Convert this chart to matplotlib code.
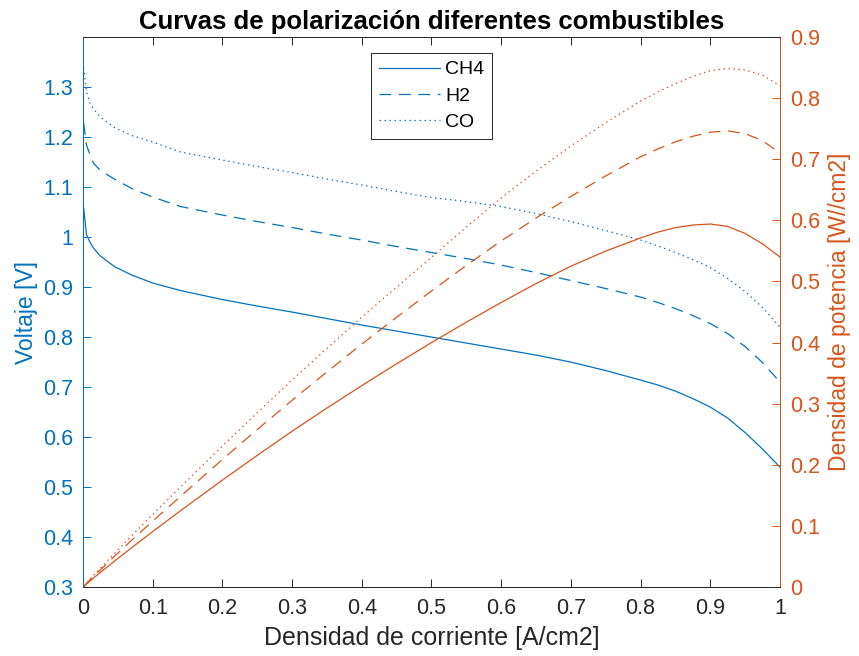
import numpy as np
import matplotlib
matplotlib.use("Agg")
import matplotlib.pyplot as plt

plt.rcParams['font.family'] = ['Liberation Sans', 'DejaVu Sans']
plt.rcParams['lines.scale_dashes'] = False

# densidad de corriente [A/cm2]
current = [0.001, 0.005, 0.01, 0.015, 0.025, 0.045, 0.07, 0.1, 0.14, 0.2, 0.25, 0.3, 0.35,
           0.4, 0.45, 0.5, 0.55, 0.6, 0.65, 0.7, 0.75, 0.8, 0.825, 0.85, 0.875, 0.9,
           0.925, 0.95, 0.975, 1.0]

# voltaje [V]
v_ch4 = [1.058, 1.005, 0.99, 0.978, 0.962, 0.941, 0.924, 0.908, 0.893, 0.875, 0.862, 0.85,
         0.837, 0.824, 0.812, 0.80, 0.788, 0.776, 0.764, 0.75, 0.733, 0.714, 0.704, 0.692,
         0.677, 0.66, 0.638, 0.609, 0.576, 0.54]
v_h2 = [1.228, 1.184, 1.165, 1.148, 1.133, 1.116, 1.097, 1.08, 1.061, 1.044, 1.031, 1.019,
        1.006, 0.994, 0.981, 0.969, 0.957, 0.944, 0.929, 0.913, 0.897, 0.88, 0.869, 0.857,
        0.843, 0.827, 0.807, 0.781, 0.749, 0.71]
v_co = [1.338, 1.29, 1.268, 1.256, 1.240, 1.219, 1.203, 1.19, 1.170, 1.154, 1.141, 1.129,
        1.116, 1.104, 1.091, 1.079, 1.071, 1.061, 1.047, 1.031, 1.013, 0.994, 0.982, 0.969,
        0.955, 0.939, 0.917, 0.891, 0.859, 0.82]

labels = ['CH4', 'H2', 'CO']
blue = '#0072BD'
orange = '#D95319'
dark = '#262626'

i = np.array(current)
volts = [np.array(v_ch4), np.array(v_h2), np.array(v_co)]
styles = [dict(linestyle='-'), dict(dashes=(8.5, 5.5)), dict(dashes=(1.0, 2.6))]

fig = plt.figure(figsize=(8.59, 6.56), dpi=100)
ax = fig.add_axes([0.0966, 0.105, 0.8114, 0.8386])
ax2 = ax.twinx()

for v, lab, st in zip(volts, labels, styles):
    ax.plot(i, v, color=blue, lw=0.9, label=lab, **st)
    ax2.plot(i, i * v, color=orange, lw=0.9, **st)

ax.set_xlim(0, 1)
ax.set_ylim(0.3, 1.4)
ax.set_yticks(np.arange(0.3, 1.31, 0.1))
ax.set_yticklabels(['0.3', '0.4', '0.5', '0.6', '0.7', '0.8', '0.9', '1', '1.1', '1.2', '1.3'])
ax.set_xticks(np.arange(0, 1.01, 0.1))
ax.set_xticklabels(['0', '0.1', '0.2', '0.3', '0.4', '0.5', '0.6', '0.7', '0.8', '0.9', '1'])
ax2.set_ylim(0, 0.9)
ax2.set_yticks(np.arange(0, 0.91, 0.1))
ax2.set_yticklabels(['0', '0.1', '0.2', '0.3', '0.4', '0.5', '0.6', '0.7', '0.8', '0.9'])

fs = 15.5
ax.tick_params(axis='x', direction='in', length=6, width=0.7, colors=dark,
               labelsize=fs, top=True, pad=8)
ax.tick_params(axis='y', direction='in', length=6, width=0.7, colors=blue,
               labelsize=fs, pad=7)
ax2.tick_params(axis='y', direction='in', length=6, width=0.7, colors=orange,
                labelsize=fs, pad=7)

for a in (ax, ax2):
    a.spines['top'].set_color(dark)
    a.spines['bottom'].set_color(dark)
    a.spines['left'].set_color(blue)
    a.spines['right'].set_color(orange)
    for s in a.spines.values():
        s.set_linewidth(0.7)

ax.set_xlabel('Densidad de corriente [A/cm2]', fontsize=18, color=dark, labelpad=5)
ax.set_ylabel('Voltaje [V]', fontsize=16.5, color=blue, labelpad=4)
ax2.set_ylabel('Densidad de potencia [W//cm2]', fontsize=16.5, color=orange, labelpad=6)
ax.set_title('Curvas de polarización diferentes combustibles', fontsize=18.5,
             fontweight='bold', pad=6)

leg = ax.legend(loc='upper center', bbox_to_anchor=(0.5, 0.971), borderaxespad=0,
                fontsize=14, handlelength=3.15, frameon=True, fancybox=False,
                framealpha=1, edgecolor=dark, borderpad=0.4, labelspacing=0.45,
                handletextpad=0.25)
leg.get_frame().set_linewidth(0.7)

fig.savefig('out.png', dpi=100)
